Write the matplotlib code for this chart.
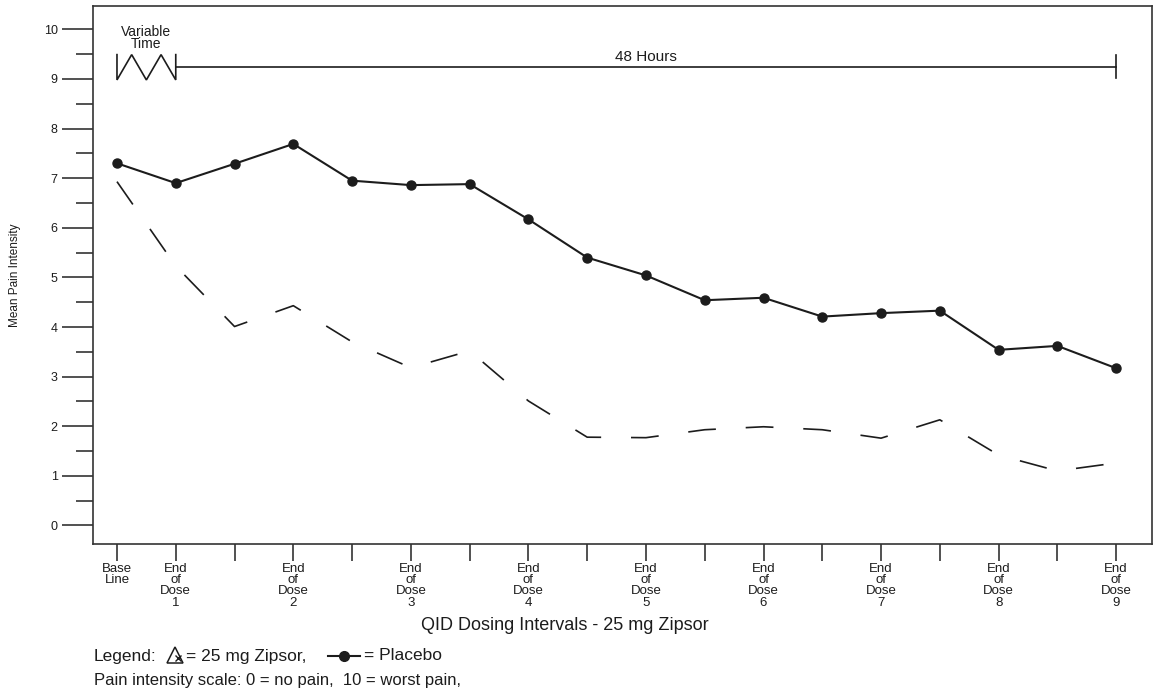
import matplotlib
matplotlib.use('Agg')
import matplotlib.pyplot as plt
from matplotlib.lines import Line2D

plt.rcParams['font.family'] = ['Liberation Sans', 'DejaVu Sans']
plt.rcParams['lines.scale_dashes'] = False

# ---- data ----
positions = list(range(18))
placebo = [7.30, 6.90, 7.29, 7.69, 6.95, 6.86, 6.88, 6.17, 5.40, 5.04,
           4.54, 4.59, 4.21, 4.28, 4.33, 3.54, 3.62, 3.17]
zipsor = [6.93, 5.23, 4.01, 4.43, 3.70, 3.18, 3.52, 2.51, 1.78, 1.77,
          1.93, 1.99, 1.93, 1.76, 2.13, 1.42, 1.10, 1.26]
x_tick_labels = ['Base\nLine', 'End\nof\nDose\n1', '', 'End\nof\nDose\n2', '',
                 'End\nof\nDose\n3', '', 'End\nof\nDose\n4', '', 'End\nof\nDose\n5', '',
                 'End\nof\nDose\n6', '', 'End\nof\nDose\n7', '', 'End\nof\nDose\n8', '',
                 'End\nof\nDose\n9']
y_major = list(range(11))
y_minor = [v + 0.5 for v in range(10)]

ink = '#1c1c1c'
W, H = 1159, 698
fig = plt.figure(figsize=(W / 100, H / 100), dpi=100)
ax = fig.add_axes([93 / W, 1 - 544 / H, (1152 - 93) / W, (544 - 6) / H])

ax.plot(positions, placebo, color=ink, lw=1.5, marker='o', ms=6.5,
        markerfacecolor=ink, markeredgecolor=ink)
ax.plot(positions, zipsor, color=ink, lw=1.2, linestyle=(0, (20, 21.5)))

ax.set_xlim(-0.408, 17.61)
ax.set_ylim(-0.373, 10.47)

for s in ax.spines.values():
    s.set_linewidth(1.2)
    s.set_color('#333333')

ax.set_xticks(positions)
ax.set_xticklabels(x_tick_labels, fontsize=9.5, linespacing=0.93, color=ink)
ax.tick_params(axis='x', direction='out', length=12, width=1.2, pad=1.5, colors='#333333')
for t in ax.get_xticklabels():
    t.set_color(ink)

ax.set_yticks(y_major)
ax.set_yticklabels([str(v) for v in y_major], fontsize=9, color=ink)
ax.set_yticks(y_minor, minor=True)
ax.tick_params(axis='y', which='major', direction='out', length=22, width=1.2, pad=3.5, colors='#333333')
ax.tick_params(axis='y', which='minor', direction='out', length=12, width=1.2, colors='#333333')
for t in ax.get_yticklabels():
    t.set_color(ink)

# ---- annotations: variable time zigzag and 48 hour bar ----
zx = [0, 0, 0.25, 0.5, 0.75, 1.0, 1.0]
zy = [9.49, 8.98, 9.49, 8.98, 9.49, 8.98, 9.49]
ax.plot(zx, zy, color=ink, lw=1.2, solid_joinstyle='miter')
ax.plot([1.0, 17.0], [9.25, 9.25], color=ink, lw=1.2)
ax.plot([17.0, 17.0], [9.02, 9.49], color=ink, lw=1.2)
ax.text(0.5, 9.82, 'Variable\nTime', ha='center', va='center', fontsize=10,
        linespacing=0.85, color=ink)
ax.text(9.0, 9.45, '48 Hours', ha='center', va='center', fontsize=11, color=ink)

# ---- axis labels ----
fig.text(565 / W, 1 - 625 / H, 'QID Dosing Intervals - 25 mg Zipsor',
         ha='center', va='center', fontsize=13, color=ink)
fig.text(15 / W, 1 - 275 / H, 'Mean Pain Intensity', rotation=90,
         ha='center', va='center', fontsize=8.5, color=ink)

# ---- legend lines below ----
ly = 1 - 656 / H
fig.text(94 / W, ly, 'Legend:', ha='left', va='center', fontsize=12.5, color=ink)
fig.add_artist(Line2D([175 / W], [ly + 0.001], marker='^', ms=11, markerfacecolor='none',
                      markeredgecolor=ink, markeredgewidth=1.1, transform=fig.transFigure))
fig.add_artist(Line2D([178 / W], [ly - 0.003], marker='x', ms=5, markeredgecolor=ink,
                      markeredgewidth=1.0, transform=fig.transFigure))
fig.text(186 / W, ly, '= 25 mg Zipsor,', ha='left', va='center', fontsize=12.5, color=ink)
fig.add_artist(Line2D([328 / W, 360 / W], [ly, ly], color=ink, lw=1.5, marker=None,
                      transform=fig.transFigure))
fig.add_artist(Line2D([344 / W], [ly], marker='o', ms=7, markerfacecolor=ink,
                      markeredgecolor=ink, transform=fig.transFigure))
fig.text(364 / W, ly, '= Placebo', ha='left', va='center', fontsize=12.5, color=ink)
fig.text(94 / W, 1 - 681 / H, 'Pain intensity scale: 0 = no pain,  10 = worst pain,',
         ha='left', va='center', fontsize=12, color=ink)

fig.savefig('out.png', dpi=100)
